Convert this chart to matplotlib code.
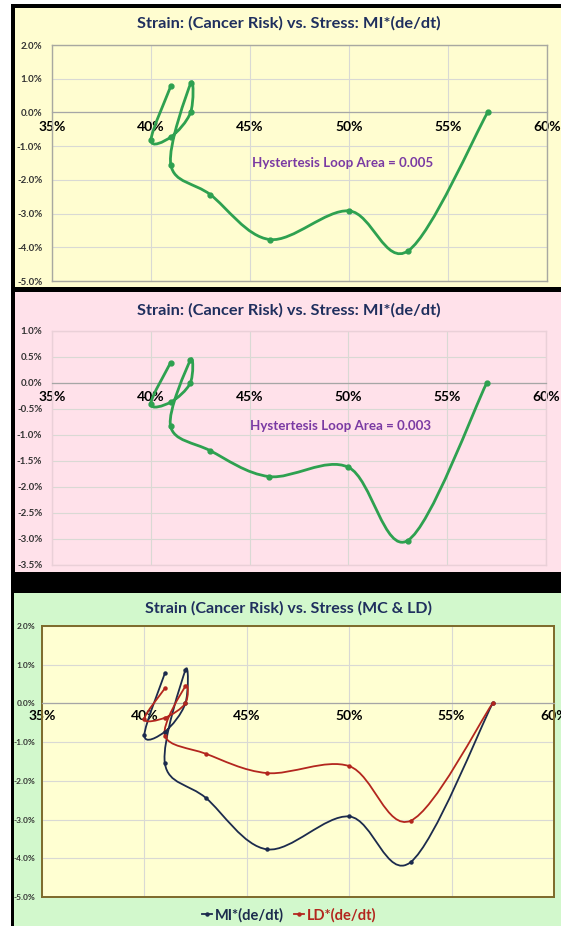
import numpy as np
import matplotlib
matplotlib.use("Agg")
import matplotlib.pyplot as plt
from matplotlib.path import Path
from matplotlib.patches import PathPatch, Rectangle
from matplotlib.lines import Line2D

plt.rcParams['font.family'] = ['Lato', 'DejaVu Sans']
plt.rcParams['font.weight'] = 'bold'

# data (stress %, strain %)
mi_stress = [41, 40, 41, 42, 42, 41, 43, 46, 50, 53, 57]
mi_strain = [0.78, -0.82, -0.73, 0.0, 0.86, -1.55, -2.44, -3.77, -2.92, -4.10, 0.0]
ld_stress = [41, 40, 41, 42, 42, 41, 43, 46, 50, 53, 57]
ld_strain = [0.39, -0.40, -0.37, 0.0, 0.44, -0.83, -1.30, -1.80, -1.62, -3.03, 0.0]

x_ticks = [35, 40, 45, 50, 55, 60]
y_ticks_a = [2, 1, 0, -1, -2, -3, -4, -5]
y_ticks_b = [1.0, 0.5, 0.0, -0.5, -1.0, -1.5, -2.0, -2.5, -3.0, -3.5]

title_ab = "Strain: (Cancer Risk) vs. Stress: MI*(de/dt)"
title_c = "Strain (Cancer Risk) vs. Stress (MC & LD)"
area_mi = "Hystertesis Loop Area = 0.005"
area_ld = "Hystertesis Loop Area = 0.003"

GREEN = '#2ea150'
NAVY = '#1c2b4d'
RED = '#b3261e'
TITLE_C = '#1f2f5e'
PURPLE = '#7a3aa3'
TICK_G = '#3cb04a'

W, H = 561, 926
fig = plt.figure(figsize=(W / 100, H / 100), dpi=100)


def rect_px(x0, y0, x1, y1):
    return [x0 / W, 1 - y1 / H, (x1 - x0) / W, (y1 - y0) / H]


def bg(x0, y0, x1, y1, color):
    fig.patches.append(Rectangle((x0 / W, 1 - y1 / H), (x1 - x0) / W, (y1 - y0) / H,
                                 transform=fig.transFigure, facecolor=color,
                                 edgecolor='none', zorder=-5))


# screenshot frame
bg(11, 4, 561, 926, 'black')
bg(15, 8, 561, 287, '#fffdd0')
bg(15, 292, 561, 572, '#ffe1ea')
bg(14, 593, 561, 926, '#d2f8cc')


def smooth(ax, xs, ys, color, lw, ms):
    # excel style smoothed line (catmull-rom as cubic bezier)
    pts = np.column_stack([xs, ys]).astype(float)
    n = len(pts)
    verts = [pts[0]]
    codes = [Path.MOVETO]
    for i in range(n - 1):
        p0 = pts[i - 1] if i > 0 else pts[i]
        p1 = pts[i]
        p2 = pts[i + 1]
        p3 = pts[i + 2] if i + 2 < n else pts[i + 1]
        verts += [p1 + (p2 - p0) / 6, p2 - (p3 - p1) / 6, p2]
        codes += [Path.CURVE4] * 3
    ax.add_patch(PathPatch(Path(verts, codes), facecolor='none', edgecolor=color,
                           lw=lw, capstyle='round', zorder=3))
    ax.plot(xs, ys, 'o', color=color, ms=ms, zorder=4)


def setup(ax, ylim, yticks, face, border, blw, xfs, yfs, ypad, xpad):
    ax.set_facecolor(face)
    ax.set_xlim(35, 60)
    ax.set_ylim(*ylim)
    ax.set_xticks(x_ticks)
    ax.set_xticklabels([f"{t}%" for t in x_ticks], color=TICK_G, fontsize=xfs, fontweight='bold')
    ax.set_yticks(yticks)
    ax.set_yticklabels([f"{t:.1f}%" for t in yticks], color='#333333',
                       fontsize=yfs, fontweight='bold')
    ax.grid(True, color='#d9d9d4', lw=0.8)
    ax.set_axisbelow(True)
    ax.tick_params(length=0)
    ax.tick_params(axis='y', pad=ypad)
    ax.tick_params(axis='x', pad=xpad)
    for s in ['top', 'left', 'right']:
        ax.spines[s].set_color(border)
        ax.spines[s].set_linewidth(blw)
    ax.spines['bottom'].set_position(('data', 0))
    ax.spines['bottom'].set_color('#a6a6a6')
    ax.spines['bottom'].set_linewidth(0.9)
    ax.plot([0, 1], [0, 0], transform=ax.transAxes, color=border, lw=blw,
            clip_on=False, zorder=5)


# panel 1
ax1 = fig.add_axes(rect_px(52, 45, 547, 281))
setup(ax1, (-5, 2), y_ticks_a, '#fffdd0', '#a8a8a0', 1.0, 7.5, 7, 7, 6)
smooth(ax1, mi_stress, mi_strain, GREEN, 2.0, 3.5)
ax1.text(49.7, -1.5, area_mi, color=PURPLE, fontsize=9.6, fontweight='bold',
         ha='center', va='center')
fig.text(289 / W, 1 - 23 / H, title_ab, color=TITLE_C, fontsize=11.8,
         fontweight='bold', ha='center', va='center')

# panel 2
ax2 = fig.add_axes(rect_px(52, 331, 546, 565))
setup(ax2, (-3.5, 1), y_ticks_b, '#ffe1ea', '#ead0d8', 1.0, 7.5, 7, 7, 6)
smooth(ax2, ld_stress, ld_strain, GREEN, 2.0, 3.5)
ax2.text(49.6, -0.83, area_ld, color=PURPLE, fontsize=9.6, fontweight='bold',
         ha='center', va='center')
fig.text(289 / W, 1 - 310 / H, title_ab, color=TITLE_C, fontsize=11.8,
         fontweight='bold', ha='center', va='center')

# panel 3
ax3 = fig.add_axes(rect_px(42, 626, 554, 897))
setup(ax3, (-5, 2), y_ticks_a, '#ffffd2', '#7d6a2a', 1.4, 6.5, 6, 5, 5)
smooth(ax3, mi_stress, mi_strain, NAVY, 1.3, 2.2)
smooth(ax3, ld_stress, ld_strain, RED, 1.3, 2.2)
fig.text(288 / W, 1 - 608 / H, title_c, color=TITLE_C, fontsize=11.5,
         fontweight='bold', ha='center', va='center')

handles = [Line2D([], [], color=NAVY, marker='o', ms=2.2, lw=1.3),
           Line2D([], [], color=RED, marker='o', ms=2.2, lw=1.3)]
leg = fig.legend(handles, ["MI*(de/dt)", "LD*(de/dt)"], loc='center',
                 bbox_to_anchor=(289 / W, 1 - 915 / H), ncol=2, frameon=False,
                 prop={'size': 10.5, 'weight': 'bold'}, handlelength=0.7,
                 handletextpad=0.2, columnspacing=0.7)
for txt, c in zip(leg.get_texts(), [NAVY, RED]):
    txt.set_color(c)

fig.savefig("out.png", dpi=100)
